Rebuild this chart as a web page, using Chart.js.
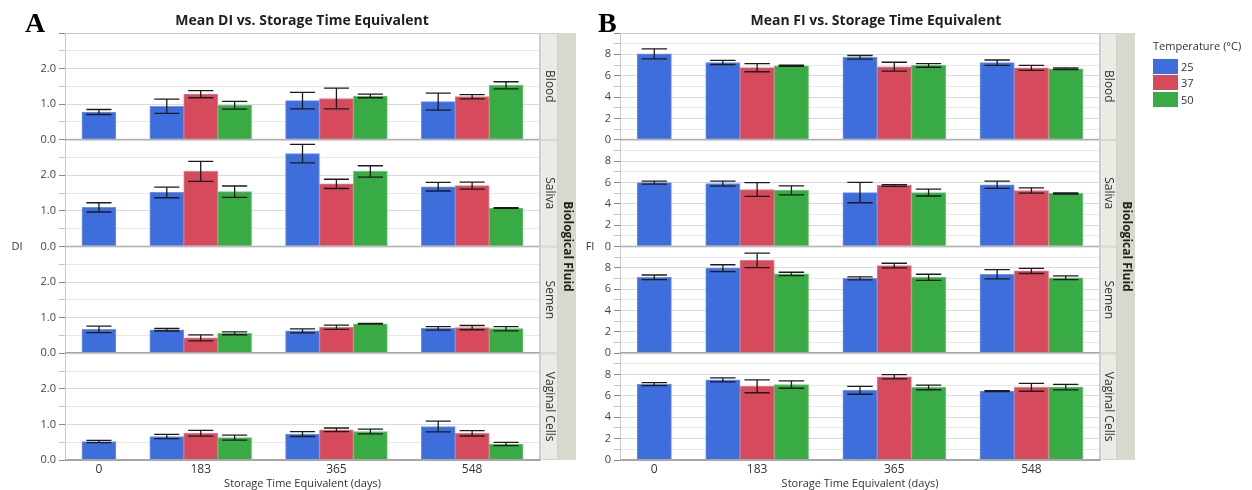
<!DOCTYPE html>
<html>
<head>
<meta charset="utf-8">
<script src="https://cdn.jsdelivr.net/npm/chart.js@4.4.1/dist/chart.umd.min.js"></script>
<style>
  html, body { margin: 0; padding: 0; background: #fff; }
  body { width: 1252px; height: 490px; position: relative; overflow: hidden; font-family: "Open Sans", sans-serif; }
  canvas { position: absolute; top: 0; }
  #chartA { left: 0; }
  #chartB { left: 575px; }
  .letter { position: absolute; top: 9px; font-family: "Liberation Serif", serif; font-weight: bold; font-size: 28px; line-height: 28px; color: #000; z-index: 2; }
  .title { position: absolute; top: 11px; font-weight: bold; font-size: 14px; line-height: 18px; color: #1e1e1e; transform: translateX(-50%); white-space: nowrap; z-index: 2; }
  #legend { position: absolute; left: 1153px; top: 38px; font-size: 11px; color: #333; z-index: 2; }
  #legend .lgTitle { line-height: 16px; margin-bottom: 4px; }
  #legend .row { height: 16.5px; display: flex; align-items: center; }
  #legend .sw { display: inline-block; width: 25px; height: 15px; margin-right: 3px; }
</style>
</head>
<body>
<div class="letter" style="left:25px">A</div>
<div class="title" style="left:302px">Mean DI vs. Storage Time Equivalent</div>
<div class="letter" style="left:598px">B</div>
<div class="title" style="left:876px">Mean FI vs. Storage Time Equivalent</div>
<div id="legend"><div class="lgTitle">Temperature (°C)</div></div>
<canvas id="chartA" width="590" height="490"></canvas>
<canvas id="chartB" width="677" height="490"></canvas>
<script>
// Categories
const days = ['0', '183', '365', '548'];
const temps = ['25', '37', '50'];
const fluids = ['Blood', 'Saliva', 'Semen', 'Vaginal Cells'];
const tempColors = ['#3e6ddc', '#d64a5b', '#38ab45'];
const tempEdges = ['#6f92e6', '#e27b87', '#6cc477'];

// Mean DI: one row per temperature (25, 37, 50 °C), one column per storage day
const diBlood = [[0.78, 0.94, 1.10, 1.07], [null, 1.28, 1.16, 1.21], [null, 0.97, 1.23, 1.53]];
const diBloodErr = [[0.07, 0.20, 0.23, 0.24], [null, 0.10, 0.29, 0.06], [null, 0.11, 0.05, 0.10]];
const diSaliva = [[1.10, 1.52, 2.61, 1.68], [null, 2.11, 1.76, 1.71], [null, 1.54, 2.11, 1.08]];
const diSalivaErr = [[0.13, 0.15, 0.26, 0.12], [null, 0.28, 0.13, 0.10], [null, 0.16, 0.16, 0.01]];
const diSemen = [[0.67, 0.66, 0.63, 0.70], [null, 0.43, 0.73, 0.72], [null, 0.56, 0.83, 0.69]];
const diSemenErr = [[0.09, 0.035, 0.055, 0.05], [null, 0.085, 0.06, 0.06], [null, 0.04, 0.01, 0.06]];
const diVaginal = [[0.52, 0.66, 0.73, 0.94], [null, 0.75, 0.85, 0.75], [null, 0.63, 0.80, 0.45]];
const diVaginalErr = [[0.03, 0.06, 0.07, 0.15], [null, 0.08, 0.05, 0.075], [null, 0.07, 0.065, 0.045]];

// Mean FI: same layout
const fiBlood = [[8.05, 7.24, 7.72, 7.22], [null, 6.75, 6.84, 6.73], [null, 6.93, 6.96, 6.64]];
const fiBloodErr = [[0.47, 0.19, 0.17, 0.25], [null, 0.38, 0.42, 0.24], [null, 0.05, 0.17, 0.08]];
const fiSaliva = [[5.98, 5.89, 5.05, 5.78], [null, 5.34, 5.72, 5.25], [null, 5.26, 5.05, 4.97]];
const fiSalivaErr = [[0.14, 0.23, 0.95, 0.34], [null, 0.65, 0.08, 0.25], [null, 0.42, 0.32, 0.05]];
const fiSemen = [[7.11, 7.97, 7.02, 7.40], [null, 8.70, 8.21, 7.71], [null, 7.43, 7.11, 7.07]];
const fiSemenErr = [[0.22, 0.32, 0.14, 0.43], [null, 0.68, 0.22, 0.24], [null, 0.16, 0.29, 0.17]];
const fiVaginal = [[7.11, 7.50, 6.53, 6.45], [null, 6.90, 7.80, 6.81], [null, 7.07, 6.80, 6.82]];
const fiVaginalErr = [[0.14, 0.19, 0.37, 0.05], [null, 0.60, 0.20, 0.37], [null, 0.35, 0.22, 0.26]];

const FONT = "'Open Sans', sans-serif";

// Error bars (mean ± error) drawn through each dataset's own y scale
const errorBars = {
  id: 'errorBars',
  afterDatasetsDraw(chart) {
    const ctx = chart.ctx;
    ctx.save();
    ctx.strokeStyle = '#1b1b1b';
    ctx.lineWidth = 1.3;
    chart.data.datasets.forEach((ds, di) => {
      const meta = chart.getDatasetMeta(di);
      const yScale = chart.scales[meta.yAxisID];
      meta.data.forEach((bar, j) => {
        const pt = ds.data[j];
        if (!pt || pt.err == null) return;
        const x = bar.x;
        const yTop = yScale.getPixelForValue(pt.y + pt.err);
        const yBot = yScale.getPixelForValue(pt.y - pt.err);
        const half = bar.width * 0.37;
        ctx.beginPath();
        ctx.moveTo(x, yTop); ctx.lineTo(x, yBot);
        ctx.moveTo(x - half, yTop); ctx.lineTo(x + half, yTop);
        ctx.moveTo(x - half, yBot); ctx.lineTo(x + half, yBot);
        ctx.stroke();
      });
    });
    ctx.restore();
  }
};

// Facet frames, row strips and the outer "Biological Fluid" strip
const facetStrips = {
  id: 'facetStrips',
  afterDraw(chart, args, opts) {
    const ctx = chart.ctx;
    const ca = chart.chartArea;
    ctx.save();
    // outer group strip
    ctx.fillStyle = '#d9d8cc';
    ctx.fillRect(ca.right + opts.inner, ca.top, opts.outer, ca.bottom - ca.top);
    fluids.forEach((fl, f) => {
      const s = chart.scales['y' + f];
      // facet frame
      ctx.strokeStyle = '#c9c9c9';
      ctx.lineWidth = 1;
      ctx.strokeRect(ca.left + 0.5, s.top + 0.5, ca.right - ca.left - 1, s.bottom - s.top - 1);
      // zero baseline
      const y0 = Math.round(s.getPixelForValue(0)) - 0.5;
      ctx.strokeStyle = '#a6a6a6';
      ctx.beginPath(); ctx.moveTo(ca.left, y0); ctx.lineTo(ca.right, y0); ctx.stroke();
      // row strip
      ctx.fillStyle = '#ebebe5';
      ctx.fillRect(ca.right, s.top, opts.inner, s.bottom - s.top);
      ctx.strokeStyle = '#d2d2ca';
      ctx.strokeRect(ca.right + 0.5, s.top + 0.5, opts.inner - 1, s.bottom - s.top - 1);
      ctx.save();
      ctx.translate(ca.right + opts.inner / 2, (s.top + s.bottom) / 2);
      ctx.rotate(Math.PI / 2);
      ctx.fillStyle = '#333';
      ctx.font = '12px ' + FONT;
      ctx.textAlign = 'center';
      ctx.textBaseline = 'middle';
      ctx.fillText(fl, 0, 0);
      ctx.restore();
    });
    // group strip title
    ctx.save();
    ctx.translate(ca.right + opts.inner + opts.outer / 2, (ca.top + ca.bottom) / 2);
    ctx.rotate(Math.PI / 2);
    ctx.fillStyle = '#1e1e1e';
    ctx.font = 'bold 12px ' + FONT;
    ctx.textAlign = 'center';
    ctx.textBaseline = 'middle';
    ctx.fillText('Biological Fluid', 0, 0);
    ctx.restore();
    // y axis title, horizontal
    ctx.fillStyle = '#333';
    ctx.font = '11px ' + FONT;
    ctx.textAlign = 'center';
    ctx.textBaseline = 'middle';
    ctx.fillText(opts.yTitle, opts.yTitleX, (ca.top + ca.bottom) / 2);
    ctx.restore();
  }
};

function buildPanel(canvasId, p) {
  // which temperatures have a bar on each day
  const present = days.map((d, i) => temps.map((t, k) => p.means.some(m => m[k][i] != null)));
  // x layout in bar-width units: half-bar margins, one bar gap between day groups
  const pos = temps.map(() => []);
  const centers = [];
  let cursor = 0.5;
  days.forEach((d, i) => {
    const n = present[i].filter(Boolean).length;
    let j = 0;
    temps.forEach((t, k) => { if (present[i][k]) { pos[k][i] = cursor + j + 0.5; j++; } });
    centers.push(cursor + n / 2);
    cursor += n + 1;
  });
  const xMax = cursor - 0.5;

  const datasets = [];
  fluids.forEach((fl, f) => {
    temps.forEach((t, k) => {
      const pts = [];
      days.forEach((d, i) => {
        const m = p.means[f][k][i];
        if (m != null) pts.push({ x: pos[k][i], y: m, err: p.errs[f][k][i] });
      });
      datasets.push({
        label: t, data: pts, xAxisID: 'x', yAxisID: 'y' + f,
        backgroundColor: tempColors[k], borderColor: tempEdges[k], borderWidth: 1,
        grouped: false, barPercentage: 1, categoryPercentage: 1
      });
    });
  });

  const scales = {
    x: {
      type: 'linear', min: 0, max: xMax, offset: false,
      afterBuildTicks: s => { s.ticks = centers.map(v => ({ value: v })); },
      ticks: { autoSkip: false, maxRotation: 0, padding: 2, color: '#333', font: { family: FONT, size: 12 },
               callback: (v, i) => days[i] },
      grid: { display: false, drawTicks: false },
      border: { display: true, color: '#a6a6a6' },
      title: { display: true, text: 'Storage Time Equivalent (days)', color: '#333', font: { family: FONT, size: 11 }, padding: { top: 0, bottom: 0 } },
      afterFit: s => { s.height = 30; }
    }
  };
  fluids.forEach((fl, f) => {
    scales['y' + f] = {
      type: 'linear', position: 'left', stack: 'fluid', stackWeight: 1, weight: fluids.length - f,
      min: 0, max: p.max,
      ticks: {
        stepSize: p.step, autoSkip: false, padding: 3, color: '#444', font: { family: FONT, size: 11 },
        callback: v => (Math.abs(v / p.major - Math.round(v / p.major)) < 1e-6 && v < p.max - 1e-6) ? p.fmt(v) : ''
      },
      grid: {
        color: c => (Math.abs(c.tick.value / p.major - Math.round(c.tick.value / p.major)) < 1e-6 ? '#dadada' : '#e9e9e9'),
        tickColor: c => (Math.abs(c.tick.value / p.major - Math.round(c.tick.value / p.major)) < 1e-6 ? '#8a8a8a' : '#c4c4c4'),
        tickLength: 6
      },
      border: { display: true, color: '#a6a6a6' },
      afterFit: s => { s.width = p.axisWidth; }
    };
  });

  return new Chart(document.getElementById(canvasId), {
    type: 'bar',
    data: { datasets },
    options: {
      responsive: false, animation: false, devicePixelRatio: 1,
      layout: { padding: { top: 33, right: p.padRight, left: 0, bottom: 0 } },
      scales,
      plugins: {
        legend: { display: false }, tooltip: { enabled: false },
        facetStrips: { inner: p.inner, outer: p.outer, yTitle: p.yTitle, yTitleX: p.yTitleX }
      }
    },
    plugins: [errorBars, facetStrips]
  });
}

buildPanel('chartA', {
  means: [diBlood, diSaliva, diSemen, diVaginal],
  errs: [diBloodErr, diSalivaErr, diSemenErr, diVaginalErr],
  max: 3, step: 0.5, major: 1, fmt: v => v.toFixed(1),
  axisWidth: 65, padRight: 50, inner: 18, outer: 18, yTitle: 'DI', yTitleX: 17
});

buildPanel('chartB', {
  means: [fiBlood, fiSaliva, fiSemen, fiVaginal],
  errs: [fiBloodErr, fiSalivaErr, fiSemenErr, fiVaginalErr],
  max: 10, step: 1, major: 2, fmt: v => String(v),
  axisWidth: 45, padRight: 152, inner: 17, outer: 18, yTitle: 'FI', yTitleX: 15
});

// Legend for the temperature series
const legend = document.getElementById('legend');
temps.forEach((t, k) => {
  const row = document.createElement('div');
  row.className = 'row';
  const sw = document.createElement('span');
  sw.className = 'sw';
  sw.style.background = tempColors[k];
  row.appendChild(sw);
  row.appendChild(document.createTextNode(t));
  legend.appendChild(row);
});
</script>
</body>
</html>
